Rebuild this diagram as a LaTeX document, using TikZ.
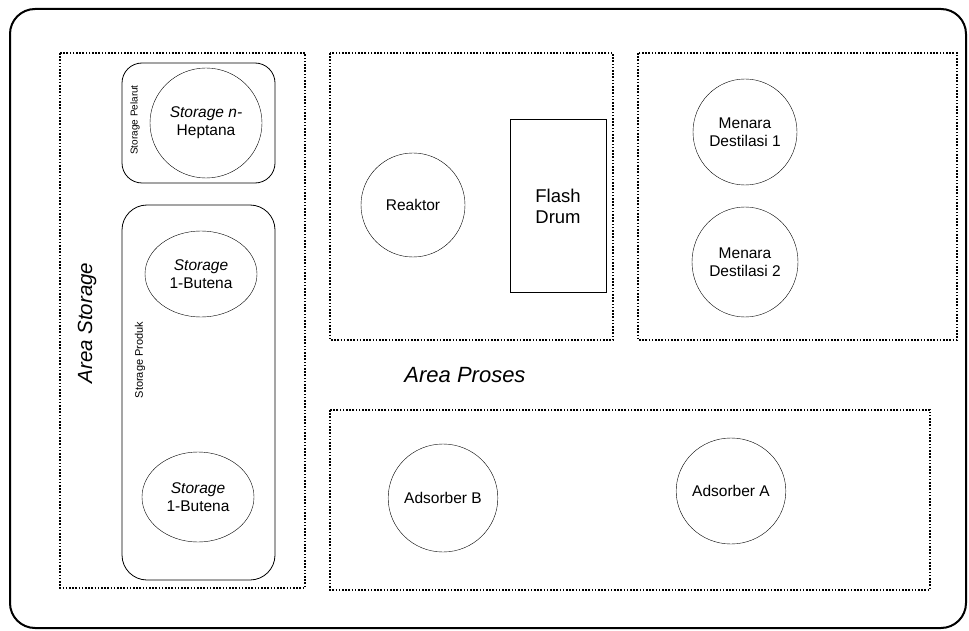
\documentclass[tikz,border=0pt]{standalone}
\usepackage{fontspec}
\setmainfont{Liberation Sans}
\usetikzlibrary{shapes.geometric}
\tikzset{
  bingkai/.style = {draw, line width=2pt, rounded corners=25pt},
  area/.style    = {draw, line width=1.4pt, dash pattern=on 1.6pt off 1.6pt},
  wadah/.style   = {draw, thick, rounded corners=20pt},
  alat/.style    = {ellipse, draw, thin, inner sep=0, align=center, font=\fontsize{15.5}{18}\selectfont},
  drum/.style    = {rectangle, draw, thin, align=center, font=\fontsize{18.5}{21}\selectfont},
  judul/.style   = {font=\fontsize{20.5}{24}\selectfont\itshape},
  kecil/.style   = {font=\fontsize{10}{12}\selectfont, rotate=90}
}
\begin{document}
\begin{tikzpicture}[x=1pt, y=-1pt]
  \useasboundingbox (0,0) rectangle (969,631);

  % ---- bingkai luar ----
  \draw[bingkai] (10,9) rectangle (966,628);

  % ---- area storage ----
  \draw[area] (60,53) rectangle (305,588);
  \node[judul, rotate=90] (as) at (87,323) {Area Storage};

  \draw[wadah] (122,63) rectangle (275,183);
  \node[kecil] (sp) at (135,120) {Storage Pelarut};
  \node[alat, minimum width=112pt, minimum height=110pt] (hep) at (206,123) {\itshape Storage n-\\Heptana};

  \draw[wadah, rounded corners=25pt] (122,205) rectangle (275,580);
  \node[kecil, font=\fontsize{11}{13}\selectfont] (spr) at (140,360) {Storage Produk};
  \node[alat, minimum width=112pt, minimum height=86pt] (bt1) at (201,274) {\textit{Storage}\\1-Butena};
  \node[alat, minimum width=112pt, minimum height=90pt] (bt2) at (198,497) {\textit{Storage}\\1-Butena};

  % ---- area proses ----
  \draw[area] (330,53) rectangle (613,340);
  \node[alat, minimum width=104pt, minimum height=104pt] (rk) at (413,205) {Reaktor};
  \node[drum, minimum width=96pt, minimum height=173pt] (fd) at (558,206) {Flash\\Drum};

  \draw[area] (638,53) rectangle (957,340);
  \node[alat, minimum width=104pt, minimum height=106pt] (md1) at (745,132) {Menara\\Destilasi 1};
  \node[alat, minimum width=106pt, minimum height=110pt] (md2) at (745,262) {Menara\\Destilasi 2};

  \node[judul, font=\fontsize{22}{26}\selectfont\itshape] (ap) at (465,375) {Area Proses};

  \draw[area] (330,410) rectangle (930,590);
  \node[alat, minimum width=106pt, minimum height=108pt] (adb) at (443,498) {Adsorber B};
  \node[alat, minimum width=104pt, minimum height=106pt] (ada) at (731,491) {Adsorber A};
\end{tikzpicture}
\end{document}
